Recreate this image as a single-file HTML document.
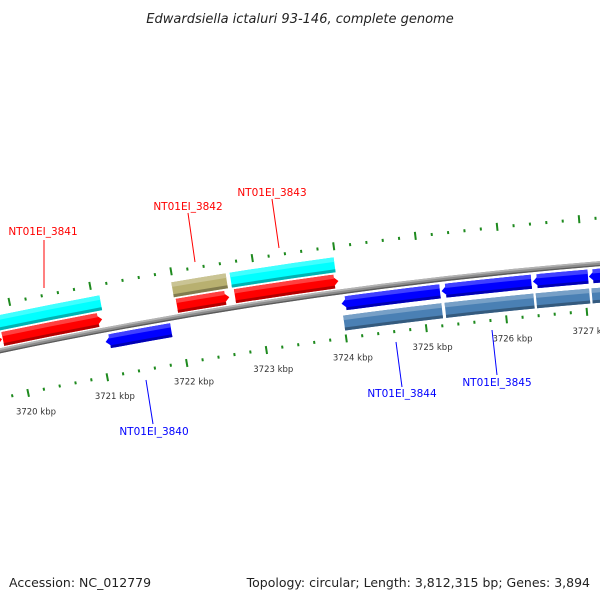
<!DOCTYPE html>
<html><head><meta charset="utf-8">
<style>
html,body{margin:0;padding:0;background:#fff;}
svg{display:block;}
text{font-family:"DejaVu Sans","Liberation Sans",sans-serif;}
</style></head>
<body>
<svg id="map" width="600" height="600" viewBox="0 0 600 600" xmlns="http://www.w3.org/2000/svg">
<rect width="600" height="600" fill="#fff"/>
<text x="300" y="23" text-anchor="middle" font-size="13" font-style="italic" fill="#222">Edwardsiella ictaluri 93-146, complete genome</text>
<g id="ticks"></g>
<g id="genes"></g>
<g id="backbone"></g>
<g id="labels"></g>
<text x="9" y="587" font-size="12.5" fill="#222">Accession: NC_012779</text>
<text x="590" y="587" text-anchor="end" font-size="12.5" fill="#222">Topology: circular; Length: 3,812,315 bp; Genes: 3,894</text>
</svg>
<script>
// data (kbp)
const tickKbp = [3720,3721,3722,3723,3724,3725,3726,3727];
const tickLabels = ["3720 kbp","3721 kbp","3722 kbp","3723 kbp","3724 kbp","3725 kbp","3726 kbp","3727 kbp"];
const geneStarts = [3718.6,3719.83,3722.0,3722.72,3721.06,3724.0,3725.24,3726.37,3727.06];
const geneEnds   = [3719.82,3721.07,3722.65,3724.0,3721.88,3725.22,3726.35,3727.05,3728.2];
const geneStrand = [1,1,1,1,-1,-1,-1,-1,-1];
const cdsStarts = [3718.6,3721.98,3722.70,3724.0,3725.26,3726.39,3727.08];
const cdsEnds   = [3721.09,3722.65,3723.98,3725.22,3726.36,3727.05,3728.2];
const cdsStrand = [1,1,1,-1,-1,-1,-1];
const cdsColor  = ["#00ffff","#b8b070","#00ffff","#4a80b4","#4a80b4","#4a80b4","#4a80b4"];
const geneNames = ["NT01EI_3841","NT01EI_3842","NT01EI_3843","NT01EI_3840","NT01EI_3844","NT01EI_3845"];
const geneLabelColor = ["#ff0000","#ff0000","#ff0000","#0000ff","#0000ff","#0000ff"];

const NS="http://www.w3.org/2000/svg";
const CX=986, CY=5028, R=4780;
function ang(p){ return (-11.676 + (p-3720)*0.977)*Math.PI/180; }
function pt(p,r){ const a=ang(p); return [CX+r*Math.sin(a), CY-r*Math.cos(a)]; }
function f(v){return v.toFixed(2);}
function mk(tag,attrs,parent){const e=document.createElementNS(NS,tag);for(const k in attrs)e.setAttribute(k,attrs[k]);parent.appendChild(e);return e;}
function arcPath(p1,p2,r1,r2){
  const a=pt(p1,r2),b=pt(p2,r2),c=pt(p2,r1),d=pt(p1,r1);
  return `M${f(a[0])},${f(a[1])}A${r2},${r2} 0 0 1 ${f(b[0])},${f(b[1])}L${f(c[0])},${f(c[1])}A${r1},${r1} 0 0 0 ${f(d[0])},${f(d[1])}Z`;
}
function arrowPath(p1,p2,r1,r2,dir){
  const head=0.09, rm=(r1+r2)/2;
  if(dir>0){
    const q=p2-head;
    const a=pt(p1,r2),b=pt(q,r2),t=pt(p2,rm),c=pt(q,r1),d=pt(p1,r1);
    return `M${f(a[0])},${f(a[1])}A${r2},${r2} 0 0 1 ${f(b[0])},${f(b[1])}L${f(t[0])},${f(t[1])}L${f(c[0])},${f(c[1])}A${r1},${r1} 0 0 0 ${f(d[0])},${f(d[1])}Z`;
  } else {
    const q=p1+head;
    const t=pt(p1,rm),a=pt(q,r2),b=pt(p2,r2),c=pt(p2,r1),d=pt(q,r1);
    return `M${f(t[0])},${f(t[1])}L${f(a[0])},${f(a[1])}A${r2},${r2} 0 0 1 ${f(b[0])},${f(b[1])}L${f(c[0])},${f(c[1])}A${r1},${r1} 0 0 0 ${f(d[0])},${f(d[1])}Z`;
  }
}
function shade(hex,k){const n=parseInt(hex.slice(1),16);let r=n>>16,g=(n>>8)&255,b=n&255;
  if(k<0){r*=1+k;g*=1+k;b*=1+k;}else{r+=(255-r)*k;g+=(255-g)*k;b+=(255-b)*k;}
  return `rgb(${Math.round(r)},${Math.round(g)},${Math.round(b)})`;}

// ticks
const tg=document.getElementById('ticks');
for(let i=0;i<=45;i++){
  const p=3719.4+i*0.2, major=Math.abs(p-Math.round(p))<1e-6;
  [[R+42,R+50,R+44,R+47],[R-43,R-51,R-45,R-48]].forEach(rs=>{
    const a=major?pt(p,rs[0]):pt(p,rs[2]), b=major?pt(p,rs[1]):pt(p,rs[3]);
    const l=mk('line',{x1:f(a[0]),y1:f(a[1]),x2:f(b[0]),y2:f(b[1]),stroke:'#1e8a1e','stroke-width':2},tg);
    
    
  });
}
tickKbp.forEach((k,i)=>{
  const a=pt(k,R-66);
  const t=mk('text',{x:f(a[0]+4),y:f(a[1]+3),'text-anchor':'middle','font-size':'8.5',fill:'#333'},tg);
  t.textContent=tickLabels[i];
  
  
});

// genes
const gg=document.getElementById('genes');
function bar(p1,p2,r1,r2,color,dir,arrow,name){
  const d=arrow?arrowPath(p1,p2,r1,r2,dir):arcPath(p1,p2,r1,r2);
  const g=mk('g',{},gg);
  
  
  mk('path',{d:d,fill:color},g);
  const h=(r2-r1);
  mk('path',{d:arcPath(p1+(arrow&&dir<0?0.05:0),p2-(arrow&&dir>0?0.05:0),r2-h*0.3,r2),fill:shade(color,0.25)},g);
  mk('path',{d:arcPath(p1+(arrow&&dir<0?0.05:0),p2-(arrow&&dir>0?0.05:0),r1,r1+h*0.2),fill:shade(color,-0.3)},g);
}
cdsStarts.forEach((s,i)=>{
  const r=cdsStrand[i]>0?[R+20,R+35]:[R-39,R-24];
  bar(s,cdsEnds[i],r[0],r[1],cdsColor[i],cdsStrand[i],false,'cds-'+i);
});
geneStarts.forEach((s,i)=>{
  const fwd=geneStrand[i]>0;
  const r=fwd?[R+4,R+18]:[R-19,R-5];
  bar(s,geneEnds[i],r[0],r[1],fwd?'#ff0000':'#0000ff',geneStrand[i],true,'gene-'+i);
});

// backbone
const bg=document.getElementById('backbone');
mk('path',{d:arcPath(3719.5,3728.3,R-2.5,R+2.5),fill:'#8c8c8c'},bg);
mk('path',{d:arcPath(3719.5,3728.3,R+0.8,R+2.5),fill:'#b4b4b4'},bg);
mk('path',{d:arcPath(3719.5,3728.3,R-2.5,R-1.2),fill:'#5a5a5a'},bg);

// labels
const lg=document.getElementById('labels');
const lbl=[[43,235,44,240,44,288],[188,210,188,213,195,262],[272,196,272,199,279,248],[154,435,146,380,153,424],[402,397,396,342,402,387],[497,386,492,330,497,375]];
lbl.forEach((L,i)=>{
  const l=mk('line',{x1:L[2],y1:L[3],x2:L[4],y2:L[5],stroke:geneLabelColor[i],'stroke-width':1},lg);
  
  
  const t=mk('text',{x:L[0],y:L[1],'text-anchor':'middle','font-size':'10.5',fill:geneLabelColor[i]},lg);
  t.textContent=geneNames[i];
  
  
});
</script>
</body></html>
